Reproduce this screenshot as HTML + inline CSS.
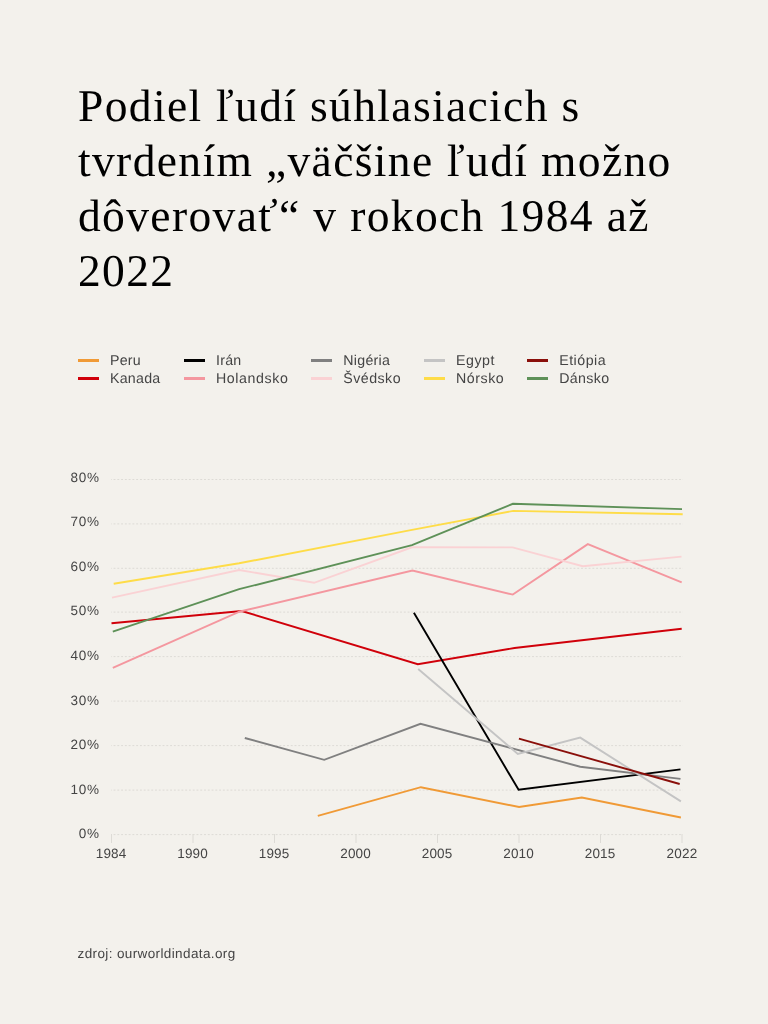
<!DOCTYPE html>
<html lang="sk">
<head>
<meta charset="utf-8">
<title>Podiel ľudí súhlasiacich s tvrdením</title>
<style>
html,body{margin:0;padding:0;}
body{text-rendering:geometricPrecision;width:768px;height:1024px;background:#f3f1ec;position:relative;overflow:hidden;font-family:"Liberation Sans",Arial,Helvetica,sans-serif;color:#444;}
h1{position:absolute;left:78px;top:78.4px;margin:0;width:640px;white-space:nowrap;font-family:"Liberation Serif","Times New Roman",serif;font-weight:400;font-size:45.5px;line-height:55px;letter-spacing:1.365px;color:#000;}
.legend{position:absolute;left:0;top:0;font-size:14.2px;line-height:18px;letter-spacing:0.25px;color:#444;}
.legend .it{position:absolute;white-space:nowrap;height:18px;}
.legend .sw{position:absolute;left:-0.2px;top:8.3px;width:21.2px;height:2.85px;}
.legend .tx{position:absolute;left:32px;top:1px;}
svg{position:absolute;left:0;top:0;}
.src{position:absolute;left:77.5px;top:944.5px;font-size:13.5px;line-height:18px;letter-spacing:0.38px;color:#444;}
.wrap{position:absolute;left:0;top:0;width:768px;height:1024px;will-change:transform;}
</style>
</head>
<body>
<div class="wrap">
<h1>Podiel ľudí súhlasiacich s<br>tvrdením „väčšine ľudí možno<br>dôverovať“ v rokoch 1984 až<br>2022</h1>

<div class="legend">
  <div class="it" style="left:78px;top:351px"><span class="sw" style="background:#f09a36"></span><span class="tx">Peru</span></div>
  <div class="it" style="left:78px;top:369px"><span class="sw" style="background:#d0000a"></span><span class="tx">Kanada</span></div>
  <div class="it" style="left:184px;top:351px"><span class="sw" style="background:#000"></span><span class="tx">Irán</span></div>
  <div class="it" style="left:184px;top:369px"><span class="sw" style="background:#f4979f"></span><span class="tx" style="letter-spacing:0.6px">Holandsko</span></div>
  <div class="it" style="left:311.2px;top:351px"><span class="sw" style="background:#808080"></span><span class="tx" style="letter-spacing:0.3px">Nigéria</span></div>
  <div class="it" style="left:311.2px;top:369px"><span class="sw" style="background:#fad2d4"></span><span class="tx" style="letter-spacing:0.5px">Švédsko</span></div>
  <div class="it" style="left:424px;top:351px"><span class="sw" style="background:#c4c4c4"></span><span class="tx" style="letter-spacing:0.55px">Egypt</span></div>
  <div class="it" style="left:424px;top:369px"><span class="sw" style="background:#fedc48"></span><span class="tx" style="letter-spacing:0.55px">Nórsko</span></div>
  <div class="it" style="left:527.2px;top:351px"><span class="sw" style="background:#8a0f0a"></span><span class="tx" style="letter-spacing:0.5px">Etiópia</span></div>
  <div class="it" style="left:527.2px;top:369px"><span class="sw" style="background:#5e9158"></span><span class="tx" style="letter-spacing:0.37px">Dánsko</span></div>
</div>

<svg text-rendering="geometricPrecision" width="768" height="1024" viewBox="0 0 768 1024">
  <g stroke="#dddbd6" stroke-width="1" stroke-dasharray="1.9 1.87" stroke-dashoffset="1.2" fill="none">
    <path d="M111 479.5H683M111 523.9H683M111 568.3H683M111 612.1H683M111 656.6H683M111 701.1H683M111 745.6H683M111 790.1H683M111 834.6H683"/>
  </g>
  <g stroke="#dddbd6" stroke-width="1" fill="none">
    <path d="M111.5 834V843M193 834V843M274.5 834V843M356 834V843M437.5 834V843M519 834V843M600.5 834V843M682 834V843"/>
  </g>
  <g font-family="'Liberation Sans',Arial,Helvetica,sans-serif" font-size="13.5" letter-spacing="0.75" fill="#444" text-anchor="end">
    <text x="99.75" y="482">80%</text>
    <text x="99.75" y="526.3">70%</text>
    <text x="99.75" y="570.9">60%</text>
    <text x="99.75" y="615.4">50%</text>
    <text x="99.75" y="660">40%</text>
    <text x="99.75" y="704.6">30%</text>
    <text x="99.75" y="749.1">20%</text>
    <text x="99.75" y="793.7">10%</text>
    <text x="99.75" y="838.2">0%</text>
  </g>
  <g font-family="'Liberation Sans',Arial,Helvetica,sans-serif" font-size="13.5" letter-spacing="0.2" fill="#444" text-anchor="middle">
    <text x="111.1" y="857.6">1984</text>
    <text x="192.6" y="857.6">1990</text>
    <text x="274.1" y="857.6">1995</text>
    <text x="355.6" y="857.6">2000</text>
    <text x="437.1" y="857.6">2005</text>
    <text x="518.6" y="857.6">2010</text>
    <text x="600.1" y="857.6">2015</text>
    <text x="682" y="857.6">2022</text>
  </g>
  <g fill="none" stroke-width="1.9" stroke-linejoin="miter" stroke-linecap="butt">
    <polyline stroke="#f09a36" points="317.8,815.9 420.9,787.2 519.1,807 581.8,797.5 680.9,817.5"/>
    <polyline stroke="#d0000a" points="111.5,623.3 241.7,611 417.8,664.2 514.5,648 681.7,628.7"/>
    <polyline stroke="#000" points="413.9,612.8 518.6,789.8 680.5,769.4"/>
    <polyline stroke="#f4979f" points="112.8,667.8 240,611.5 412.4,570.5 512.8,594.6 587.8,544.1 681.7,582.3"/>
    <polyline stroke="#808080" points="244.8,738 324.2,759.8 420.5,723.75 580.2,766.7 680.5,778.9"/>
    <polyline stroke="#fad2d4" points="112,597.6 239.1,570 314.1,582.8 412,547.3 512.6,547.4 582.8,566.25 681.5,556.6"/>
    <polyline stroke="#c4c4c4" points="418.2,669 517.8,753.9 580.2,737.6 680.9,801.4"/>
    <polyline stroke="#fedc48" points="113.7,583.8 239.1,563.3 412,529.9 513.2,510.9 682.7,514.2"/>
    <polyline stroke="#8a0f0a" points="518.9,738.6 679.7,784"/>
    <polyline stroke="#5e9158" points="112.8,631.7 239.1,589.2 412,545.1 512.9,503.8 682,509.1"/>
  </g>
</svg>

<div class="src">zdroj: ourworldindata.org</div>
</div>
</body>
</html>
